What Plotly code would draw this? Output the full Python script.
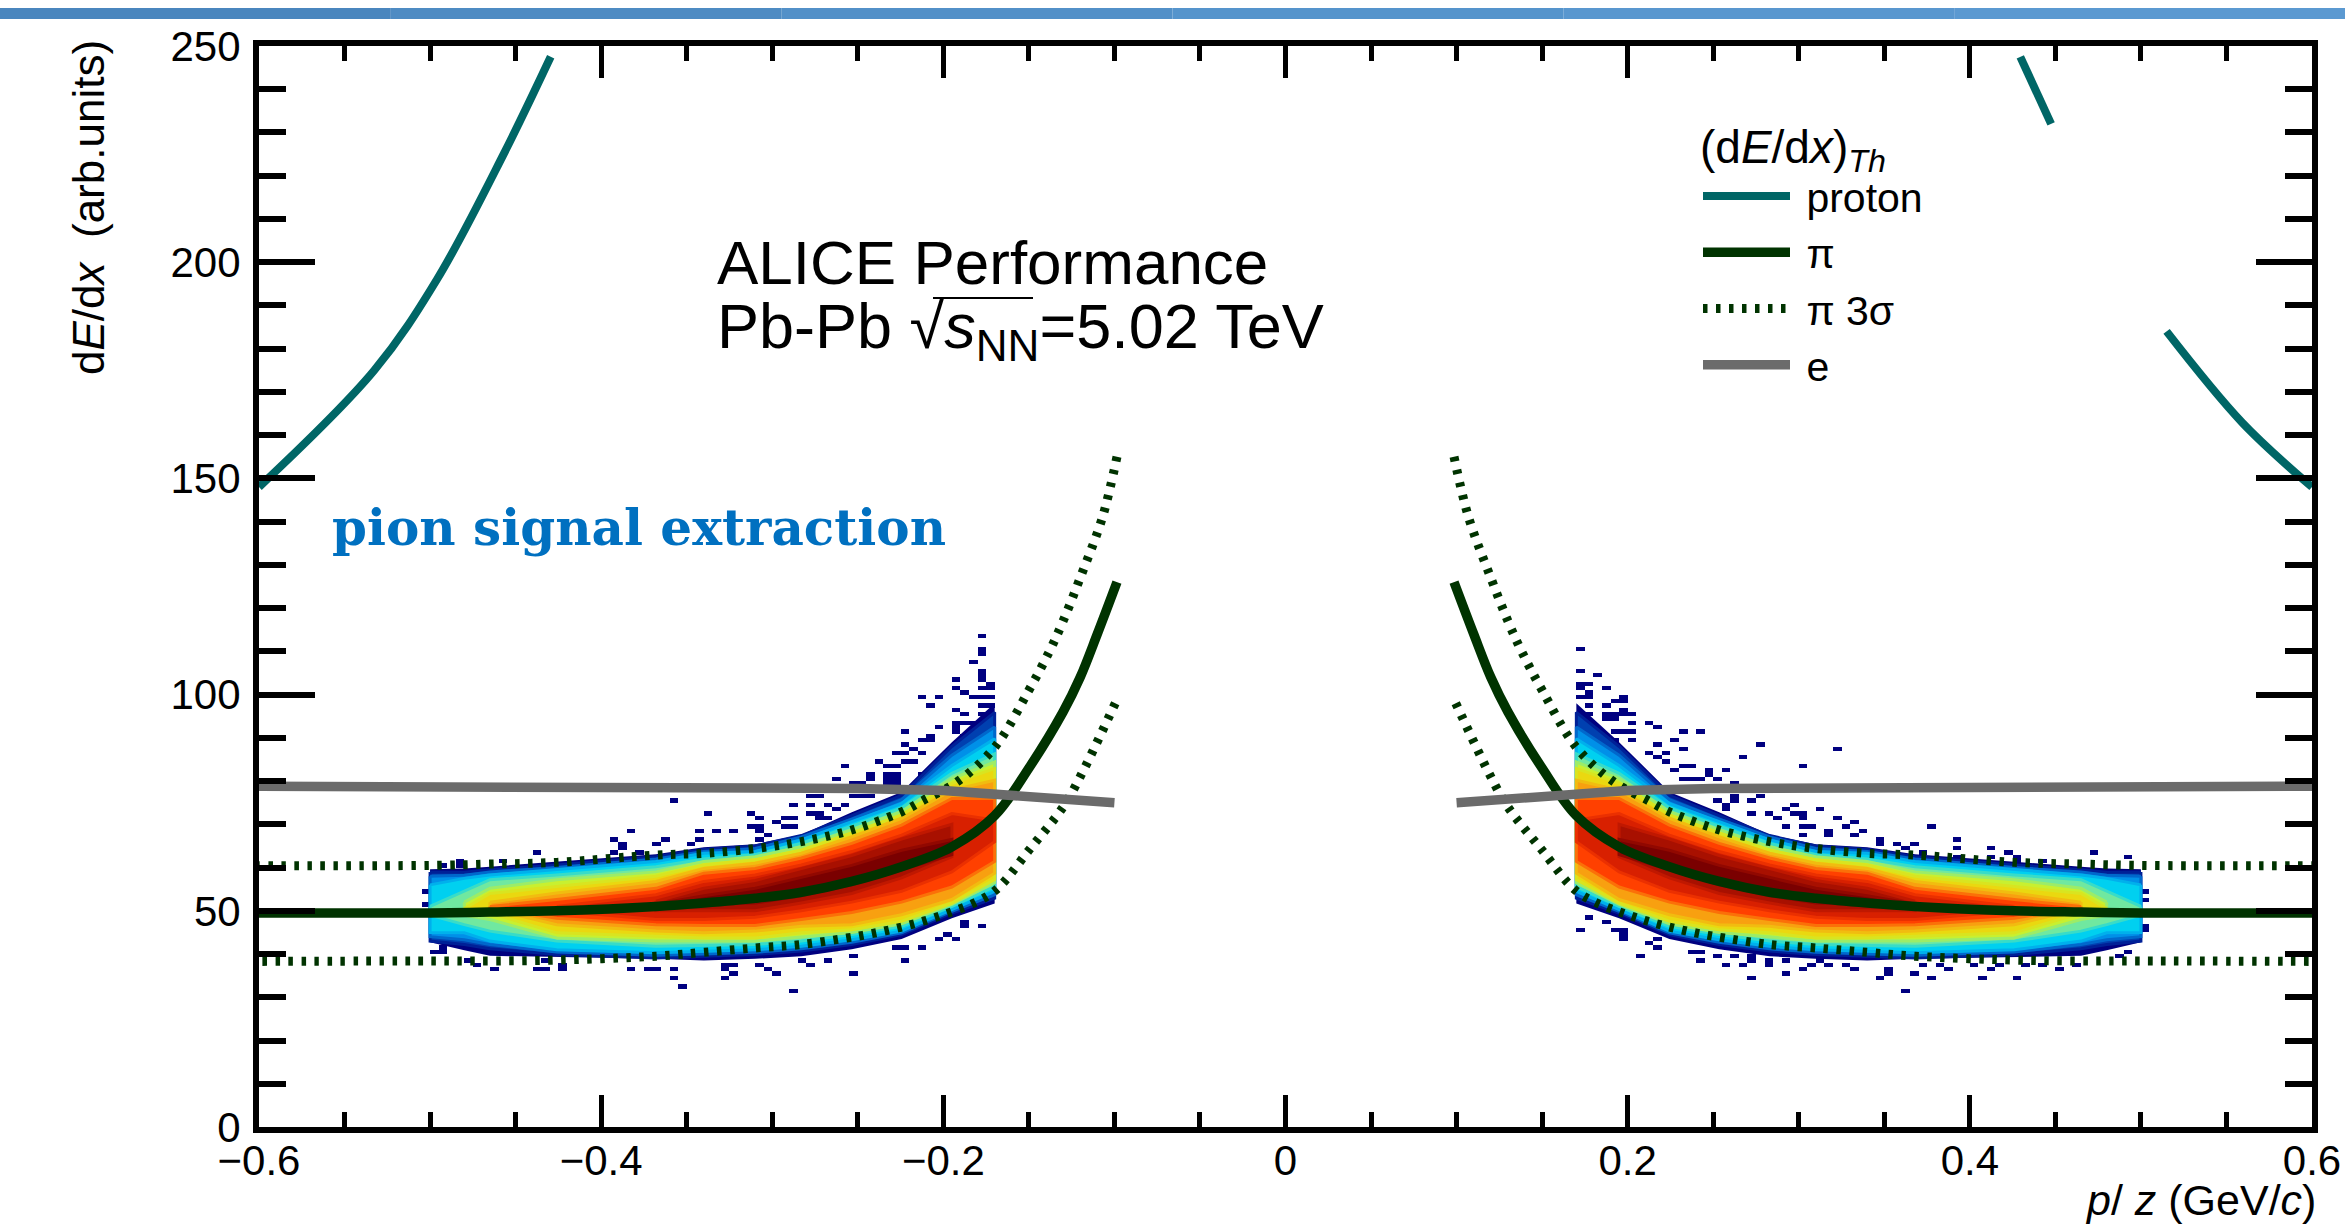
import numpy as np
import plotly.graph_objects as go

# ---------- curves (|p/z| -> dE/dx) ----------
pion_p = [0.0985, 0.11, 0.12, 0.13, 0.15, 0.17, 0.195, 0.2244, 0.2535, 0.283, 0.31, 0.34, 0.368, 0.426, 0.465, 0.5, 0.6]
pion_y = [126, 114, 104, 96, 83, 72, 64.8, 60.2, 56.8, 54.3, 52.9, 51.8, 51, 50, 49.7, 49.5, 49.5]
up3_p = [0.0985, 0.107, 0.12, 0.13, 0.138, 0.15, 0.17, 0.192, 0.2115, 0.2244, 0.2535, 0.283, 0.31, 0.34, 0.368, 0.426, 0.465, 0.5, 0.6]
up3_y = [155, 141, 127, 117, 110, 101, 87.8, 79.8, 75.6, 72.9, 68.7, 66, 64.4, 63.3, 62.9, 61.2, 60.8, 60.5, 60.4]
lo3_p = [0.0995, 0.12, 0.13, 0.15, 0.169, 0.182, 0.197, 0.2115, 0.227, 0.242, 0.2565, 0.283, 0.31, 0.34, 0.368, 0.426, 0.465, 0.5, 0.6]
lo3_y = [98, 81, 74, 64, 54.9, 51.8, 49.5, 47.6, 46, 44.7, 43.7, 42.2, 41.4, 40.4, 39.5, 38.6, 38.4, 38.4, 38.3]
ele_p = [0.10, 0.12, 0.134, 0.15, 0.17, 0.2, 0.25, 0.35, 0.45, 0.6]
ele_y = [75, 75.6, 76.3, 76.7, 77.1, 77.8, 78.3, 78.4, 78.7, 78.8]
prot_neg_p = [-0.6, -0.5326, -0.496, -0.457, -0.4295]
prot_neg_y = [148, 175, 196, 225, 247.5]
prot_pos_p = [0.4295, 0.4475, None, 0.515, 0.559, 0.6]
prot_pos_y = [247.5, 232, None, 184, 163, 148]

# ---------- population bands: per |p/z| knot, upper and lower edge of each colour level ----------
band_p = [0.50, 0.48, 0.465, 0.426, 0.368, 0.34, 0.31, 0.283, 0.2535, 0.2244, 0.195, 0.17]
N = None
band_colors = ["#00007f", "#0040b0", "#0090e8", "#00d0f0", "#70e8a0", "#c8f030",
               "#ead810", "#f8a010", "#ff4000", "#d82000", "#a81000", "#7a0000"]
band_top = [
    [59.6, 59.8, 60.2, 61.3, 63.1, 64.7, 65.4, 67.6, 72.8, 77.5, 89, 98],
    [59, 58.9, 59.5, 60.6, 62.5, 64.2, 65, 67.4, 72, 76.7, 88, 95.9],
    [58, 58.2, 59, 60, 62, 63.7, 64.4, 67.1, 71.2, 75.7, 86, 92.5],
    [56, 57.5, 58.3, 59.5, 61.4, 63.3, 63.7, 66.4, 70.6, 74.8, 83.6, 89.8],
    [51, 54.5, 57.2, 58.3, 60.2, 62, 63, 65.6, 69.6, 73.8, 81.8, 86.3],
    [N, 52, 55.2, 57.2, 59, 61.4, 62.5, 64.8, 68.7, 72.9, 80.6, 84.4],
    [N, 50.5, 54, 55.6, 58, 60.6, 61.8, 64, 68, 72.2, 79.5, 82.9],
    [N, N, 52, 54.1, 56.8, 59.8, 61, 63.3, 67.1, 71.4, 77.9, 80.2],
    [N, N, 51, 52.6, 55.2, 58.7, 59.8, 62.2, 65.6, 69.8, 76, 76],
    [N, N, N, 51, 53.7, 56.8, 58.3, 60.6, 63.7, 67.5, 72.5, 71],
    [N, N, N, N, 52.2, 55.2, 57, 59.7, 62.8, 66.6, 70, N],
    [N, N, N, N, 51.5, 53.5, 55.2, 57.8, 60.5, 64, 66.5, N],
]
band_bot = [
    [42.7, 40.9, 39.6, 39.3, 38.9, 38.5, 38.9, 39.5, 41.1, 43.5, 48.3, 51.7],
    [43, 42.2, 41.2, 39.9, 39.1, 39.5, 39.9, 40.7, 42.2, 44.5, 49.5, 52.9],
    [44, 43.3, 42.2, 40.5, 39.7, 40, 40.4, 41.2, 42.7, 44.9, 49.9, 53.7],
    [45, 44.9, 43, 41, 40.3, 40.7, 41, 41.8, 43.3, 45.3, 50.3, 54.5],
    [49, 46.8, 45.3, 43, 41.8, 42, 42.2, 43, 44.5, 46.4, 51, 55.6],
    [N, 49, 48, 43.7, 43, 43, 43, 44, 45, 47, 51.5, 56.5],
    [N, 49.8, 49.5, 44.9, 44.1, 43.7, 43.7, 44.9, 45.6, 47.6, 51.8, 57.2],
    [N, N, 50.5, 46.8, 45.3, 44.9, 45.3, 46.4, 46.8, 49.1, 52.6, 58.7],
    [N, N, 50.7, 48.3, 46.8, 46.6, 46.6, 48, 49.6, 52, 55.5, 61.4],
    [N, N, N, 50, 48, 48, 48.5, 50, 52, 54.5, 59, 66],
    [N, N, N, N, 50, 50, 50, 51.8, 54, 57.6, 62.5, N],
    [N, N, N, N, 51, 51.5, 51.8, 53.5, 56, 59.5, 63, N],
]

# ---------- isolated low-count cells: (p/z bin centre, dE/dx bins) ----------
sparse_neg = [
    (-0.1725, [102, 101, 99, 97, 95, 94]), (-0.1775, [113, 110, 109, 105, 104, 103, 101, 99, 97, 95, 46]),
    (-0.1825, [107, 99, 93]), (-0.1875, [100, 95, 93, 90, 47, 46]), (-0.1925, [103, 101, 96, 93, 92, 91, 88, 43]),
    (-0.1975, [44]), (-0.2025, [99, 92, 43]), (-0.2075, [97, 90, 89]), (-0.2125, [99, 89, 86, 81, 41]),
    (-0.2175, [87, 84]), (-0.2225, [91, 88, 86, 84, 41, 38]), (-0.2275, [86, 83, 81, 80, 79, 41]),
    (-0.2325, [83, 81, 80, 79]), (-0.2375, [84]), (-0.2425, [81, 80, 76]), (-0.2475, [79, 76]),
    (-0.2525, [79, 76, 39, 35]), (-0.2575, [83, 74]), (-0.2625, [80, 73]), (-0.2675, [74, 71, 38]),
    (-0.2725, [76, 72, 71]), (-0.2775, [76, 74, 72, 37]), (-0.2825, [38]), (-0.2875, [74, 71, 69, 31]),
    (-0.2925, [71, 69]), (-0.2975, [70, 35]), (-0.3025, [67, 36]), (-0.3075, [71, 69, 68, 66, 37]),
    (-0.3125, [72, 69]), (-0.3225, [68, 37, 35]), (-0.3275, [37, 36, 34]), (-0.3325, [68]), (-0.3375, [72]),
    (-0.3425, [68, 66]), (-0.3475, [65]), (-0.3525, [32]), (-0.3575, [75, 36, 34]), (-0.3625, [66]),
    (-0.3675, [65, 36]), (-0.3725, [36]), (-0.3775, [63]), (-0.3825, [68, 36]), (-0.3875, [65, 64]),
    (-0.3925, [66, 63]), (-0.4225, [37, 36]), (-0.4325, [38, 36]), (-0.4375, [63, 36]), (-0.4575, [61]),
    (-0.4625, [36]), (-0.4725, [37]), (-0.4775, [38]), (-0.4825, [61, 60]), (-0.4925, [60, 41, 40]),
    (-0.4975, [40]), (-0.5025, [54, 51]),
]
sparse_pos = [
    (0.1725, [110, 105, 102, 101, 99, 45]), (0.1775, [102, 100, 99, 97, 95, 48]), (0.1825, [104]),
    (0.1875, [101, 97, 95, 94, 47]), (0.1925, [98, 95, 94, 91, 89, 45]), (0.1975, [99, 98, 96, 95, 91, 45, 44, 43]),
    (0.2025, [95, 93, 91, 89]), (0.2075, [39]), (0.2125, [93, 86, 42]), (0.2175, [92, 88, 85, 43, 41]),
    (0.2225, [86, 84]), (0.2275, [89, 82]), (0.2325, [91, 87, 83, 80]), (0.2375, [83, 80, 40]),
    (0.2425, [91, 80, 40, 38]), (0.2475, [82, 81]), (0.2525, [80, 75, 39]), (0.2575, [82, 74, 73, 37]),
    (0.2625, [79, 76, 75, 39]), (0.2675, [85, 37]), (0.2725, [75, 72, 39, 38, 34]), (0.2775, [88, 76]),
    (0.2825, [72, 38, 37]), (0.2875, [71]), (0.2925, [73, 69, 38, 35]), (0.2975, [74, 72]),
    (0.3025, [83, 72, 71, 69, 67, 36]), (0.3075, [69, 37]), (0.3125, [73, 38]), (0.3175, [68, 67, 37]),
    (0.3225, [87, 71]), (0.3275, [69, 37]), (0.3325, [70, 67, 36]), (0.3375, [68]), (0.3475, [66, 65, 34]),
    (0.3525, [36, 35]), (0.3575, [65]), (0.3625, [64, 31]), (0.3675, [65, 35]), (0.3725, [63, 37]),
    (0.3775, [69, 34]), (0.3825, [37]), (0.3875, [36]), (0.3925, [66, 64, 62]), (0.4025, [37]), (0.4075, [34]),
    (0.4125, [64, 62, 36]), (0.4175, [37]), (0.4225, [63]), (0.4275, [62, 61, 34]), (0.4325, [37]),
    (0.4425, [61, 37]), (0.4525, [36]), (0.4625, [37]), (0.4725, [63]), (0.4875, [39]), (0.4925, [62, 40]),
    (0.5025, [54, 52, 46, 45]),
]

y_ticks_major = 50
legend_names = ["\u00a0proton", "\u00a0π", "\u00a0π 3σ", "\u00a0e"]
FONT = "Liberation Sans"
TEAL, DGREEN, GREY = "#006666", "#003300", "#6b6b6b"

# ---------- figure geometry ----------
W, H = 2345, 1226
ML, MR, MT, MB = 259, 33, 46, 99
def paper_x(px): return (px - ML) / (W - ML - MR)
def paper_y(py): return (H - MB - py) / (H - MT - MB)
def blend(c1, c2):
    a = [int(c1[i:i + 2], 16) for i in (1, 3, 5)]
    b = [int(c2[i:i + 2], 16) for i in (1, 3, 5)]
    return "#%02x%02x%02x" % tuple((u + v) // 2 for u, v in zip(a, b))

fig = go.Figure()

# sparse cells
cx = -0.5975 + 0.005 * np.arange(240)
cy = 0.5 + np.arange(120)
z = np.full((120, 240), np.nan)
for p, ys in sparse_neg + sparse_pos:
    i = int(round((p + 0.5975) / 0.005))
    for v in ys:
        z[int(v), i] = 1
fig.add_trace(go.Heatmap(x=cx, y=cy, z=z, zmin=0, zmax=1, showscale=False,
                         colorscale=[[0, "#000080"], [1, "#000080"]], hoverongaps=False,
                         hoverinfo="skip", showlegend=False))

# population bands
for sign in (-1, 1):
    for k, (col, top, bot) in enumerate(zip(band_colors, band_top, band_bot)):
        px_t = [sign * p for p, t in zip(band_p, top) if t is not None]
        y_t = [t for t in top if t is not None]
        px_b = [sign * p for p, b in zip(band_p, bot) if b is not None]
        y_b = [b for b in bot if b is not None]
        edge = blend(col, band_colors[k - 1]) if k else col
        fig.add_trace(go.Scatter(x=px_t + px_b[::-1] + px_t[:1], y=y_t + y_b[::-1] + y_t[:1], mode="lines", fill="toself",
                                 fillcolor=col, line=dict(width=3 if k else 0, color=edge),
                                 hoverinfo="skip", showlegend=False))

def both(ps, ys):
    xs = [-p for p in ps] + [None] + list(ps)
    return xs, list(ys) + [None] + list(ys)

px_, py_ = prot_neg_p + [None] + prot_pos_p, prot_neg_y + [None] + prot_pos_y
fig.add_trace(go.Scatter(x=px_, y=py_, mode="lines", name=legend_names[0],
                         line=dict(color=TEAL, width=8, shape="spline")))
x_, y_ = both(pion_p, pion_y)
fig.add_trace(go.Scatter(x=x_, y=y_, mode="lines", name=legend_names[1],
                         line=dict(color=DGREEN, width=9.5, shape="spline")))
xu, yu = both(up3_p, up3_y)
xl, yl = both(lo3_p, lo3_y)
fig.add_trace(go.Scatter(x=xu + [None] + xl, y=yu + [None] + yl, mode="lines", name=legend_names[2],
                         line=dict(color=DGREEN, width=9, dash="4.5px,8.5px", shape="spline")))
x_, y_ = both(ele_p, ele_y)
fig.add_trace(go.Scatter(x=x_, y=y_, mode="lines", name=legend_names[3], line=dict(color=GREY, width=9.5)))

axis_common = dict(showline=True, linecolor="black", linewidth=6, mirror="ticks", showgrid=False, zeroline=False,
                   ticks="inside", tickcolor="black", tickfont=dict(family=FONT, size=42, color="black"))
fig.update_xaxes(range=[-0.6, 0.6], tick0=0, dtick=0.2, ticklen=32, tickwidth=5, ticklabelstandoff=-8,
                 minor=dict(tick0=0, dtick=0.05, ticks="inside", ticklen=15, tickwidth=5, tickcolor="black", showgrid=False),
                 **axis_common)
fig.update_yaxes(range=[0, 250], tick0=0, dtick=y_ticks_major, ticklen=56, tickwidth=6, ticklabelstandoff=4,
                 minor=dict(tick0=0, dtick=10, ticks="inside", ticklen=27, tickwidth=6, tickcolor="black", showgrid=False),
                 **axis_common)

def text(px, py, s, size, color="black", family=FONT, anchor="left", angle=0, vanchor="middle"):
    fig.add_annotation(xref="paper", yref="paper", x=paper_x(px), y=paper_y(py), text=s, showarrow=False,
                       xanchor=anchor, yanchor=vanchor, textangle=angle,
                       font=dict(family=family, size=size, color=color))

text(715, 262, "ALICE Performance", 62)
text(715, 330, "Pb-Pb √<i>s</i><sub>NN</sub>=5.02 TeV", 63)
text(330, 527, "<b>pion signal extraction</b>", 50, color="#0070c0", family="DejaVu Serif")
text(88, 208, "d<i>E</i>/d<i>x</i>  (arb.units)", 44, angle=-90, anchor="center")
text(2318, 1200, "<i>p</i>/ <i>z</i> (GeV/<i>c</i>)", 43, anchor="right")

# overline of the square root
fig.add_shape(type="line", xref="paper", yref="paper", x0=paper_x(933), x1=paper_x(1033),
              y0=paper_y(298), y1=paper_y(298), line=dict(color="black", width=2))

# top banner
for i, c in enumerate(["#4a86be", "#4e8bc3", "#5290c8", "#5594cc", "#5997cf", "#5b99d1"]):
    fig.add_shape(type="rect", xref="paper", yref="paper", x0=paper_x(W * i / 6), x1=paper_x(W * (i + 1) / 6),
                  y0=paper_y(19), y1=paper_y(8), fillcolor=c, line=dict(width=0), layer="above")

fig.update_layout(
    width=W, height=H, autosize=False, margin=dict(l=ML, r=MR, t=MT, b=MB, pad=0, autoexpand=False),
    paper_bgcolor="white", plot_bgcolor="white",
    font=dict(family=FONT, color="black", size=42),
    legend=dict(x=paper_x(1698), y=paper_y(103), xanchor="left", yanchor="top", bgcolor="rgba(0,0,0,0)",
                borderwidth=0, itemwidth=87, tracegroupgap=0,
                font=dict(family=FONT, size=41, color="black"),
                title=dict(text="(d<i>E</i>/d<i>x</i>)<sub><i>Th</i></sub>", font=dict(family=FONT, size=46, color="black"))),
)

fig.write_html("out.html", post_script="document.body.style.margin='0';", config={"displayModeBar": False})
